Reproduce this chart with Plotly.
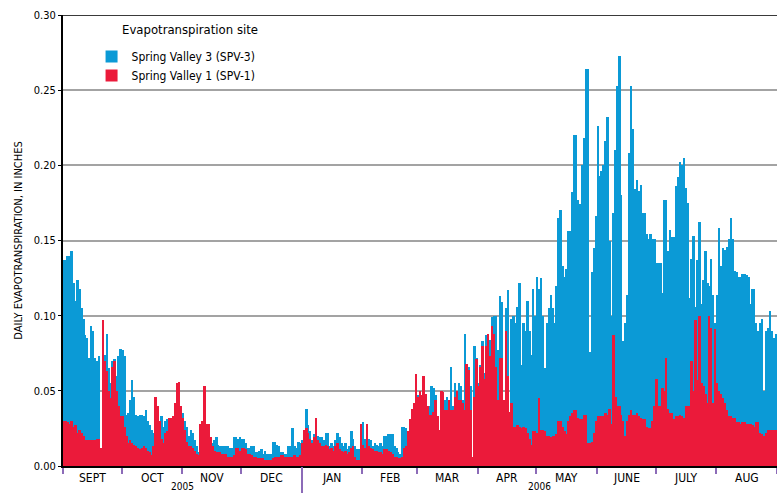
import pandas as pd
import plotly.graph_objects as go

# ---------------- data (inches per day) ----------------
MONTHS = ["SEPT", "OCT", "NOV", "DEC", "JAN", "FEB", "MAR", "APR", "MAY", "JUNE", "JULY", "AUG"]
YEARS = ["2005", "2006"]
Y_TICKS = [0.00, 0.05, 0.10, 0.15, 0.20, 0.25, 0.30]
Y_TICKTEXT = ["0.00", "0.05", "0.10", "0.15", "0.20", "0.25", "0.30"]

# Spring Valley 3 (SPV-3)
spv3_sep = [0.137, 0.137, 0.140, 0.140, 0.143, 0.122, 0.110, 0.124, 0.118, 0.105,
            0.098, 0.087, 0.085, 0.072, 0.093, 0.090, 0.072, 0.070, 0.073, 0.012,
            0.074, 0.074, 0.088, 0.065, 0.055, 0.070, 0.071, 0.060, 0.073, 0.078]
spv3_oct = [0.077, 0.073, 0.034, 0.035, 0.044, 0.057, 0.046, 0.034, 0.033, 0.034,
            0.034, 0.033, 0.037, 0.030, 0.027, 0.024, 0.022, 0.025, 0.030, 0.030,
            0.033, 0.026, 0.030, 0.031, 0.032, 0.032, 0.033, 0.034, 0.034, 0.035,
            0.035]
spv3_nov = [0.035, 0.030, 0.026, 0.020, 0.024, 0.022, 0.017, 0.013, 0.009, 0.008,
            0.020, 0.020, 0.020, 0.018, 0.018, 0.015, 0.017, 0.019, 0.014, 0.013,
            0.013, 0.013, 0.013, 0.013, 0.012, 0.012, 0.019, 0.019, 0.018, 0.019]
spv3_dec = [0.018, 0.018, 0.015, 0.012, 0.012, 0.013, 0.013, 0.009, 0.009, 0.010,
            0.011, 0.008, 0.010, 0.008, 0.008, 0.008, 0.016, 0.016, 0.014, 0.013,
            0.009, 0.009, 0.008, 0.008, 0.013, 0.013, 0.025, 0.013, 0.012, 0.016,
            0.015]
spv3_jan = [0.017, 0.024, 0.038, 0.027, 0.023, 0.017, 0.021, 0.032, 0.020, 0.019,
            0.019, 0.017, 0.022, 0.022, 0.013, 0.015, 0.013, 0.017, 0.022, 0.019,
            0.015, 0.013, 0.015, 0.011, 0.013, 0.023, 0.018, 0.013, 0.011, 0.011,
            0.011]
spv3_feb = [0.029, 0.018, 0.028, 0.018, 0.017, 0.013, 0.015, 0.014, 0.013, 0.015,
            0.013, 0.020, 0.020, 0.021, 0.021, 0.021, 0.013, 0.012, 0.009, 0.008,
            0.026, 0.026, 0.025, 0.023, 0.031, 0.038, 0.042, 0.061]
spv3_mar = [0.047, 0.050, 0.047, 0.060, 0.048, 0.040, 0.040, 0.053, 0.052, 0.047,
            0.033, 0.024, 0.050, 0.049, 0.044, 0.046, 0.044, 0.066, 0.040, 0.055,
            0.050, 0.055, 0.053, 0.044, 0.088, 0.068, 0.066, 0.053, 0.006, 0.080,
            0.072]
spv3_apr = [0.055, 0.067, 0.083, 0.062, 0.087, 0.088, 0.084, 0.099, 0.100, 0.100,
            0.077, 0.113, 0.109, 0.044, 0.105, 0.117, 0.036, 0.098, 0.100, 0.095,
            0.106, 0.122, 0.067, 0.095, 0.090, 0.110, 0.090, 0.074, 0.118, 0.100]
spv3_may = [0.126, 0.118, 0.125, 0.100, 0.065, 0.095, 0.105, 0.114, 0.105, 0.095,
            0.120, 0.165, 0.170, 0.133, 0.126, 0.131, 0.156, 0.156, 0.182, 0.220,
            0.220, 0.177, 0.174, 0.200, 0.218, 0.264, 0.264, 0.076, 0.129, 0.145,
            0.166]
spv3_jun = [0.226, 0.193, 0.196, 0.200, 0.216, 0.232, 0.150, 0.100, 0.168, 0.210,
            0.253, 0.273, 0.180, 0.083, 0.095, 0.114, 0.208, 0.253, 0.224, 0.184,
            0.190, 0.183, 0.187, 0.168, 0.168, 0.154, 0.151, 0.154, 0.151, 0.151]
spv3_jul = [0.135, 0.135, 0.135, 0.115, 0.177, 0.177, 0.143, 0.157, 0.152, 0.152,
            0.186, 0.192, 0.202, 0.200, 0.205, 0.185, 0.175, 0.112, 0.138, 0.153,
            0.106, 0.137, 0.162, 0.108, 0.124, 0.143, 0.122, 0.120, 0.138, 0.114,
            0.095]
spv3_aug = [0.114, 0.158, 0.133, 0.145, 0.144, 0.146, 0.151, 0.165, 0.151, 0.130,
            0.129, 0.126, 0.126, 0.128, 0.128, 0.127, 0.126, 0.108, 0.118, 0.118,
            0.095, 0.090, 0.095, 0.098, 0.050, 0.090, 0.092, 0.103, 0.090, 0.085,
            0.088]

# Spring Valley 1 (SPV-1)
spv1_sep = [0.030, 0.030, 0.029, 0.028, 0.030, 0.026, 0.027, 0.022, 0.024, 0.022,
            0.020, 0.017, 0.017, 0.017, 0.017, 0.017, 0.017, 0.018, 0.018, 0.012,
            0.097, 0.070, 0.063, 0.050, 0.045, 0.066, 0.070, 0.050, 0.040, 0.033]
spv1_oct = [0.033, 0.026, 0.020, 0.015, 0.017, 0.015, 0.014, 0.013, 0.012, 0.011,
            0.012, 0.013, 0.012, 0.010, 0.009, 0.007, 0.013, 0.046, 0.040, 0.030,
            0.018, 0.015, 0.022, 0.023, 0.032, 0.032, 0.033, 0.042, 0.055, 0.056,
            0.040]
spv1_nov = [0.032, 0.024, 0.016, 0.013, 0.013, 0.012, 0.010, 0.008, 0.007, 0.028,
            0.030, 0.053, 0.028, 0.028, 0.019, 0.013, 0.010, 0.009, 0.009, 0.009,
            0.008, 0.008, 0.008, 0.006, 0.006, 0.006, 0.007, 0.012, 0.012, 0.010]
spv1_dec = [0.012, 0.012, 0.011, 0.008, 0.008, 0.007, 0.006, 0.006, 0.005, 0.005,
            0.005, 0.005, 0.004, 0.004, 0.004, 0.004, 0.005, 0.006, 0.006, 0.006,
            0.007, 0.007, 0.006, 0.006, 0.006, 0.006, 0.006, 0.007, 0.006, 0.006,
            0.007]
spv1_jan = [0.015, 0.024, 0.025, 0.022, 0.018, 0.015, 0.019, 0.032, 0.017, 0.015,
            0.013, 0.013, 0.014, 0.013, 0.011, 0.012, 0.010, 0.013, 0.015, 0.011,
            0.010, 0.009, 0.010, 0.008, 0.009, 0.012, 0.013, 0.006, 0.004, 0.004,
            0.028]
spv1_feb = [0.014, 0.012, 0.028, 0.013, 0.012, 0.011, 0.010, 0.010, 0.009, 0.009,
            0.008, 0.011, 0.011, 0.010, 0.009, 0.008, 0.006, 0.006, 0.005, 0.005,
            0.006, 0.012, 0.013, 0.023, 0.031, 0.038, 0.042, 0.061]
spv1_mar = [0.046, 0.050, 0.047, 0.060, 0.048, 0.040, 0.034, 0.034, 0.036, 0.044,
            0.033, 0.024, 0.050, 0.049, 0.037, 0.037, 0.044, 0.037, 0.037, 0.046,
            0.050, 0.044, 0.044, 0.042, 0.037, 0.068, 0.064, 0.037, 0.006, 0.046,
            0.071]
spv1_apr = [0.053, 0.066, 0.080, 0.058, 0.080, 0.088, 0.073, 0.093, 0.088, 0.066,
            0.044, 0.072, 0.072, 0.044, 0.090, 0.060, 0.036, 0.042, 0.026, 0.026,
            0.027, 0.026, 0.025, 0.026, 0.025, 0.022, 0.018, 0.014, 0.023, 0.023]
spv1_may = [0.022, 0.045, 0.024, 0.024, 0.023, 0.020, 0.020, 0.019, 0.020, 0.020,
            0.021, 0.030, 0.030, 0.026, 0.023, 0.021, 0.030, 0.033, 0.035, 0.037,
            0.037, 0.032, 0.031, 0.031, 0.034, 0.034, 0.015, 0.015, 0.016, 0.022,
            0.030]
spv1_jun = [0.033, 0.033, 0.033, 0.033, 0.035, 0.034, 0.038, 0.028, 0.087, 0.046,
            0.040, 0.040, 0.034, 0.030, 0.020, 0.030, 0.034, 0.037, 0.034, 0.034,
            0.035, 0.033, 0.032, 0.031, 0.031, 0.026, 0.025, 0.025, 0.030, 0.040]
spv1_jul = [0.058, 0.040, 0.040, 0.052, 0.050, 0.072, 0.038, 0.035, 0.035, 0.031,
            0.033, 0.033, 0.034, 0.033, 0.032, 0.040, 0.040, 0.040, 0.070, 0.050,
            0.097, 0.057, 0.100, 0.055, 0.053, 0.048, 0.042, 0.100, 0.092, 0.042,
            0.091]
spv1_aug = [0.055, 0.050, 0.048, 0.045, 0.042, 0.037, 0.033, 0.033, 0.032, 0.032,
            0.029, 0.029, 0.028, 0.029, 0.029, 0.028, 0.028, 0.028, 0.027, 0.026,
            0.029, 0.029, 0.022, 0.021, 0.020, 0.022, 0.024, 0.024, 0.024, 0.024,
            0.024]

spv3 = (spv3_sep + spv3_oct + spv3_nov + spv3_dec + spv3_jan + spv3_feb +
        spv3_mar + spv3_apr + spv3_may + spv3_jun + spv3_jul + spv3_aug)
spv1 = (spv1_sep + spv1_oct + spv1_nov + spv1_dec + spv1_jan + spv1_feb +
        spv1_mar + spv1_apr + spv1_may + spv1_jun + spv1_jul + spv1_aug)

# ---------------- figure ----------------
START = pd.Timestamp("2005-09-01")
END = pd.Timestamp("2006-09-01")
dates = pd.date_range(START, periods=len(spv3), freq="D") + pd.Timedelta(hours=12)
month_starts = pd.date_range(START, END, freq="MS")
DAY_MS = 86400000

BLUE = "#0b9ad6"
RED = "#eb1a3a"
PURPLE = "#8c6bb8"
FONT = "Liberation Sans Narrow, DejaVu Sans Condensed, Roboto, sans-serif"

fig = go.Figure()
fig.add_bar(x=dates, y=spv3, name="Spring Valley 3 (SPV-3)", width=DAY_MS,
            marker=dict(color=BLUE, line=dict(width=0)))
fig.add_bar(x=dates, y=spv1, name="Spring Valley 1 (SPV-1)", width=DAY_MS,
            marker=dict(color=RED, line=dict(width=0)))
# invisible trace for the secondary axis carrying the long year tick
fig.add_scatter(x=[START], y=[0], xaxis="x2", mode="markers",
                marker=dict(opacity=0), showlegend=False, hoverinfo="skip")

annotations = []
for i, m in enumerate(MONTHS):
    a, b = month_starts[i], month_starts[i + 1]
    annotations.append(dict(x=a + (b - a) / 2, y=0, xref="x", yref="paper",
                            text=m, showarrow=False, yanchor="middle", yshift=-12,
                            font=dict(size=12, color="black", family=FONT)))
year_bounds = [(START, pd.Timestamp("2006-01-01")), (pd.Timestamp("2006-01-01"), END)]
for yr, (a, b) in zip(YEARS, year_bounds):
    annotations.append(dict(x=a + (b - a) / 2, y=0, xref="x", yref="paper",
                            text=yr, showarrow=False, yanchor="top", yshift=-13,
                            font=dict(size=10, color="black", family=FONT)))
annotations.append(dict(x=0.08, y=0.967, xref="paper", yref="paper",
                        text="Evapotranspiration site", showarrow=False,
                        xanchor="left", yanchor="middle",
                        font=dict(size=13, color="black", family=FONT)))

fig.update_layout(
    width=777, height=493,
    margin=dict(l=63, r=0, t=15, b=27),
    paper_bgcolor="white", plot_bgcolor="white",
    barmode="overlay", bargap=0,
    font=dict(family=FONT, color="black", size=11),
    showlegend=True,
    legend=dict(x=0.04, y=0.94, xanchor="left", yanchor="top",
                bgcolor="rgba(0,0,0,0)", font=dict(size=12, family=FONT),
                tracegroupgap=0, itemwidth=30),
    xaxis=dict(type="date", range=[START, END], tickvals=list(month_starts),
               showticklabels=False, ticks="outside", ticklen=6, tickwidth=2,
               tickcolor=PURPLE, showline=True, linecolor="black", linewidth=2,
               showgrid=False, zeroline=False, fixedrange=True),
    xaxis2=dict(type="date", range=[START, END], overlaying="x", side="bottom",
                tickvals=[pd.Timestamp("2006-01-01")], showticklabels=False,
                ticks="outside", ticklen=27, tickwidth=2, tickcolor=PURPLE,
                showline=False, showgrid=False, zeroline=False),
    yaxis=dict(range=[0, 0.30], tickvals=Y_TICKS, ticktext=Y_TICKTEXT,
               ticks="outside", ticklen=3, tickcolor="black", tickwidth=1,
               showline=True, linecolor="black", linewidth=2,
               showgrid=True, gridcolor="#a3a3a3", gridwidth=1.5,
               zeroline=False, tickfont=dict(size=11, family=FONT),
               title=dict(text="DAILY EVAPOTRANSPIRATION, IN INCHES",
                          font=dict(size=11, family=FONT), standoff=9)),
    shapes=[dict(type="line", xref="paper", x0=0, x1=1, yref="y", y0=0.30, y1=0.30,
                 line=dict(color="#3a3a3a", width=2))],
    annotations=annotations,
)

fig.write_html("out.html",
               config={"displayModeBar": False},
               post_script="document.body.style.margin='0';"
                           "document.body.style.overflow='hidden';")
